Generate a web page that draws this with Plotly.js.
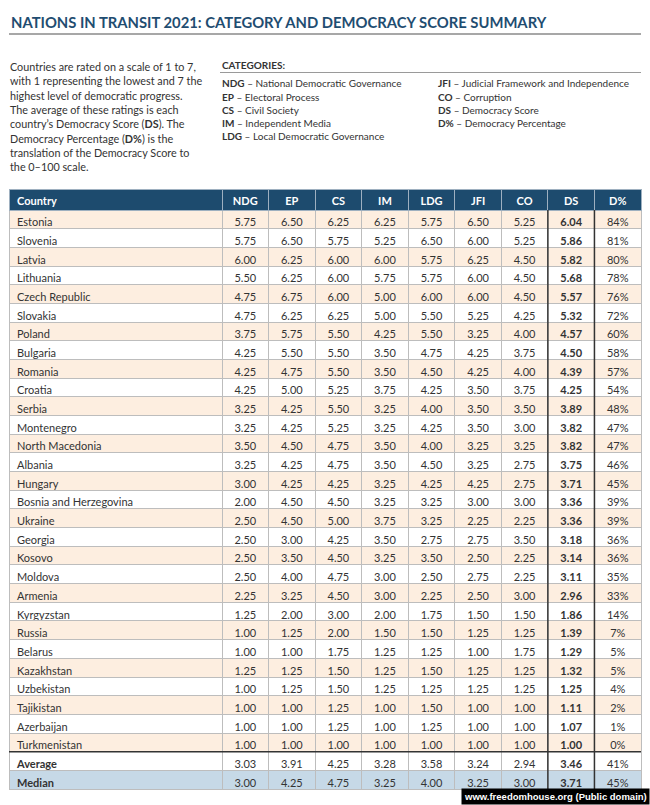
<!DOCTYPE html>
<html>
<head>
<meta charset="utf-8">
<script src="https://cdn.plot.ly/plotly-3.0.1.min.js"></script>
<style>html,body{margin:0;padding:0;background:#fff;}#chart{width:650px;height:805px;}</style>
</head>
<body>
<div id="chart"></div>
<script>
// ---------------- DATA ----------------
const titleText = "NATIONS IN TRANSIT 2021: CATEGORY AND DEMOCRACY SCORE SUMMARY";
const introLines = [
  "Countries are rated on a scale of 1 to 7,",
  "with 1 representing the lowest and 7 the",
  "highest level of democratic progress.",
  "The average of these ratings is each",
  "country’s Democracy Score (<b>DS</b>). The",
  "Democracy Percentage (<b>D%</b>) is the",
  "translation of the Democracy Score to",
  "the 0–100 scale."
];
const categoryCodesLeft = ["NDG", "EP", "CS", "IM", "LDG"];
const categoryNamesLeft = ["National Democratic Governance", "Electoral Process", "Civil Society", "Independent Media", "Local Democratic Governance"];
const categoryCodesRight = ["JFI", "CO", "DS", "D%"];
const categoryNamesRight = ["Judicial Framework and Independence", "Corruption", "Democracy Score", "Democracy Percentage"];

const columns = ["Country", "NDG", "EP", "CS", "IM", "LDG", "JFI", "CO", "DS", "D%"];
const countries = ["Estonia","Slovenia","Latvia","Lithuania","Czech Republic","Slovakia","Poland","Bulgaria","Romania","Croatia","Serbia","Montenegro","North Macedonia","Albania","Hungary","Bosnia and Herzegovina","Ukraine","Georgia","Kosovo","Moldova","Armenia","Kyrgyzstan","Russia","Belarus","Kazakhstan","Uzbekistan","Tajikistan","Azerbaijan","Turkmenistan"];
const NDG = [5.75,5.75,6.00,5.50,4.75,4.75,3.75,4.25,4.25,4.25,3.25,3.25,3.50,3.25,3.00,2.00,2.50,2.50,2.50,2.50,2.25,1.25,1.00,1.00,1.25,1.00,1.00,1.00,1.00];
const EP  = [6.50,6.50,6.25,6.25,6.75,6.25,5.75,5.50,4.75,5.00,4.25,4.25,4.50,4.25,4.25,4.50,4.50,3.00,3.50,4.00,3.25,2.00,1.25,1.00,1.25,1.25,1.00,1.00,1.00];
const CS  = [6.25,5.75,6.00,6.00,6.00,6.25,5.50,5.50,5.50,5.25,5.50,5.25,4.75,4.75,4.25,4.50,5.00,4.25,4.50,4.75,4.50,3.00,2.00,1.75,1.50,1.50,1.25,1.25,1.00];
const IM  = [6.25,5.25,6.00,5.75,5.00,5.00,4.25,3.50,3.50,3.75,3.25,3.25,3.50,3.50,3.25,3.25,3.75,3.50,3.25,3.00,3.00,2.00,1.50,1.25,1.25,1.25,1.00,1.00,1.00];
const LDG = [5.75,6.50,5.75,5.75,6.00,5.50,5.50,4.75,4.50,4.25,4.00,4.25,4.00,4.50,4.25,3.25,3.25,2.75,3.50,2.50,2.25,1.75,1.50,1.25,1.50,1.25,1.50,1.25,1.00];
const JFI = [6.50,6.00,6.25,6.00,6.00,5.25,3.25,4.25,4.25,3.50,3.50,3.50,3.25,3.25,4.25,3.00,2.25,2.75,2.50,2.75,2.50,1.50,1.25,1.00,1.25,1.25,1.00,1.00,1.00];
const CO  = [5.25,5.25,4.50,4.50,4.50,4.25,4.00,3.75,4.00,3.75,3.50,3.00,3.25,2.75,2.75,3.00,2.25,3.50,2.25,2.25,3.00,1.50,1.25,1.75,1.25,1.25,1.00,1.00,1.00];
const DS  = [6.04,5.86,5.82,5.68,5.57,5.32,4.57,4.50,4.39,4.25,3.89,3.82,3.82,3.75,3.71,3.36,3.36,3.18,3.14,3.11,2.96,1.86,1.39,1.29,1.32,1.25,1.11,1.07,1.00];
const DPCT = [84,81,80,78,76,72,60,58,57,54,48,47,47,46,45,39,39,36,36,35,33,14,7,5,5,4,2,1,0];
const summaryLabels = ["Average", "Median"];
const averageRow = [3.03, 3.91, 4.25, 3.28, 3.58, 3.24, 2.94, 3.46, 41];
const medianRow  = [3.00, 4.25, 4.75, 3.25, 4.00, 3.25, 3.00, 3.71, 45];
const sourceText = "www.freedomhouse.org (Public domain)";

// ---------------- LAYOUT CONSTANTS ----------------
const W = 650, H = 805;
const px = x => x / W;
const py = y => 1 - y / H;
const tableLeft = 9, tableRight = 641, tableTop = 189;
const headerH = 21, rowH = 18.68;
const countryW = 213;
const numW = (tableRight - tableLeft - countryW) / 9;

const navy = "#1d4b6e";
const peach = "#fdeee0";
const blue = "#c6d9e7";
const textCol = "#333333";
const FONT = "Lato, 'Open Sans', sans-serif";

// ---------------- TABLE VALUES ----------------
// non-breaking spaces keep Plotly from growing rows for wrap checks
const nb = s => s.replace(/ /g, "\u00A0");
const numCols = [NDG, EP, CS, IM, LDG, JFI, CO, DS];
const f2 = v => v.toFixed(2);
const nRows = countries.length + 2;
const cellValues = [];
cellValues.push(countries.concat(summaryLabels).map(nb));
numCols.forEach((col, i) => {
  cellValues.push(col.concat([averageRow[i], medianRow[i]]).map(f2));
});
cellValues.push(DPCT.concat([averageRow[8], medianRow[8]]).map(v => v + "%"));

const rowFill = [];
for (let r = 0; r < nRows; r++) {
  if (r < countries.length) rowFill.push(r % 2 === 0 ? peach : "#ffffff");
  else if (r === countries.length) rowFill.push("#ffffff");
  else rowFill.push(blue);
}
const fills = columns.map(() => rowFill);

// font weights: DS column bold; Average / Median labels bold
const countryWeights = countries.map(() => "normal").concat(["bold", "bold"]);
const weights = columns.map((c, i) => i === 0 ? countryWeights : (c === "DS" ? rowFill.map(() => "bold") : rowFill.map(() => "normal")));

const trace = {
  type: "table",
  domain: {x: [px(tableLeft), px(tableRight)], y: [0, py(tableTop)]},
  columnwidth: [countryW].concat(Array(9).fill(numW)),
  header: {
    values: columns,
    align: ["left"].concat(Array(9).fill("center")),
    fill: {color: navy},
    line: {color: "#9eb0c0", width: 1},
    font: {family: FONT, size: 11, color: "#ffffff", weight: "bold"},
    height: headerH
  },
  cells: {
    values: cellValues,
    align: ["left"].concat(Array(9).fill("center")),
    fill: {color: fills},
    line: {color: "#bdbdbd", width: 1},
    font: {family: FONT, size: 11, color: textCol, weight: weights},
    height: rowH
  }
};

// ---------------- ANNOTATIONS ----------------
const annotations = [];
annotations.push({
  text: "<b>" + titleText + "</b>", xref: "paper", yref: "paper",
  x: px(9), y: py(22), xanchor: "left", yanchor: "middle", showarrow: false,
  font: {family: FONT, size: 14.8, color: "#1f4d71", weight: 900}
});
introLines.forEach((t, i) => {
  annotations.push({
    text: t, xref: "paper", yref: "paper", x: px(8), y: py(66.7 + i * 14.3),
    xanchor: "left", yanchor: "middle", showarrow: false,
    font: {family: FONT, size: 10.8, color: textCol}
  });
});
annotations.push({
  text: "<b>CATEGORIES:</b>", xref: "paper", yref: "paper", x: px(220), y: py(65),
  xanchor: "left", yanchor: "middle", showarrow: false,
  font: {family: FONT, size: 10, color: textCol}
});
categoryCodesLeft.forEach((c, i) => {
  annotations.push({
    text: "<b>" + c + "</b> – " + categoryNamesLeft[i], xref: "paper", yref: "paper",
    x: px(220), y: py(83.3 + i * 13.2), xanchor: "left", yanchor: "middle", showarrow: false,
    font: {family: FONT, size: 10, color: textCol}
  });
});
categoryCodesRight.forEach((c, i) => {
  annotations.push({
    text: "<b>" + c + "</b> – " + categoryNamesRight[i], xref: "paper", yref: "paper",
    x: px(436), y: py(83.3 + i * 13.2), xanchor: "left", yanchor: "middle", showarrow: false,
    font: {family: FONT, size: 10, color: textCol}
  });
});
annotations.push({
  text: "<b>" + sourceText + "</b>", xref: "paper", yref: "paper", x: 1, y: 0,
  xanchor: "right", yanchor: "bottom", showarrow: false, bgcolor: "#000000", borderpad: 2,
  font: {family: "'Liberation Sans', Arial, sans-serif", size: 9.5, color: "#ffffff"}
});

// ---------------- SHAPES (rules) ----------------
const bodyTop = tableTop + headerH;
const bodyBottom = bodyTop + nRows * rowH;
const dsLeft = tableLeft + countryW + 7 * numW;
const dsRight = dsLeft + numW;
const avgTop = bodyTop + countries.length * rowH;
const shapes = [
  {type: "line", xref: "paper", yref: "paper", x0: px(9), x1: px(641), y0: py(34), y1: py(34), line: {color: "#8a8a8a", width: 1.5}},
  {type: "line", xref: "paper", yref: "paper", x0: px(220), x1: px(641), y0: py(72.5), y1: py(72.5), line: {color: "#9a9a9a", width: 1}},
  {type: "line", xref: "paper", yref: "paper", x0: px(dsLeft), x1: px(dsLeft), y0: py(bodyTop), y1: py(bodyBottom), line: {color: "#333", width: 1.5}},
  {type: "line", xref: "paper", yref: "paper", x0: px(dsRight), x1: px(dsRight), y0: py(bodyTop), y1: py(bodyBottom), line: {color: "#333", width: 1.5}},
  {type: "line", xref: "paper", yref: "paper", x0: px(tableLeft), x1: px(tableRight), y0: py(avgTop), y1: py(avgTop), line: {color: "#333", width: 1.5}}
];

const layout = {
  width: W, height: H,
  margin: {l: 0, r: 0, t: 0, b: 0},
  paper_bgcolor: "#ffffff",
  showlegend: false,
  annotations: annotations,
  shapes: shapes
};

Plotly.newPlot("chart", [trace], layout, {displayModeBar: false, staticPlot: true});
</script>
</body>
</html>
